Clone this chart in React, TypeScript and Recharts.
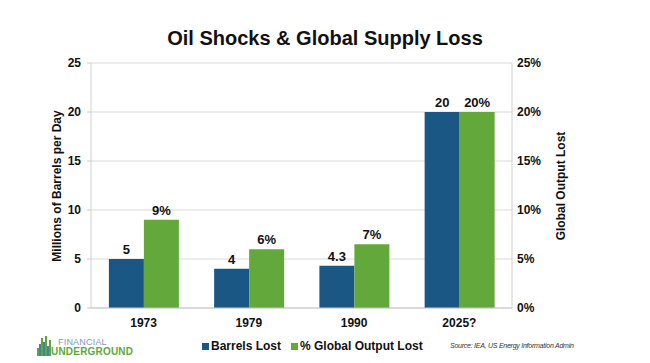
import React from "react";
import {
  BarChart,
  Bar,
  XAxis,
  YAxis,
  CartesianGrid,
  LabelList,
} from "recharts";

const years = ["1973", "1979", "1990", "2025?"];
const barrelsLost = [5, 4, 4.3, 20];
const outputLost = [9, 6, 6.5, 20];
const leftTicks = [0, 5, 10, 15, 20, 25];
const rightTicks = [0, 5, 10, 15, 20, 25];
const seriesNames = ["Barrels Lost", "% Global Output Lost"];

const BLUE = "#1b5785";
const GREEN = "#62a83a";
const font = "'Liberation Sans', Arial, sans-serif";

const data = years.map((year, i) => ({
  year,
  barrels: barrelsLost[i],
  output: outputLost[i],
}));

const tickStyle = { fontSize: 12, fontWeight: 700, fill: "#111", fontFamily: font };

export default function App() {
  return (
    <div style={{ position: "absolute", left: 0, top: 0, width: 650, height: 363, background: "#fff", fontFamily: font }}>
      <div style={{ position: "absolute", top: 27, left: 0, width: 650, textAlign: "center", fontSize: 20, fontWeight: 700, color: "#111" }}>
        Oil Shocks &amp; Global Supply Loss
      </div>
      <BarChart
        width={650}
        height={363}
        data={data}
        margin={{ top: 63, right: 98, bottom: 35, left: 51 }}
        barCategoryGap="17%"
        barGap={0}
      >
        <CartesianGrid vertical={false} stroke="#d9d9d9" yAxisId="left" />
        <XAxis
          dataKey="year"
          height={20}
          tick={tickStyle}
          tickLine={false}
          axisLine={{ stroke: "#c8c8c8" }}
          tickMargin={4}
        />
        <YAxis
          yAxisId="left"
          width={40}
          domain={[0, 25]}
          ticks={leftTicks}
          tick={tickStyle}
          tickSize={4}
          tickMargin={6}
          tickLine={{ stroke: "#c8c8c8" }}
          axisLine={{ stroke: "#d0d0d0" }}
        />
        <YAxis
          yAxisId="right"
          orientation="right"
          width={40}
          domain={[0, 25]}
          ticks={rightTicks}
          tick={tickStyle}
          tickSize={0}
          tickMargin={5}
          tickFormatter={(v: number) => `${v}%`}
          axisLine={{ stroke: "#d0d0d0" }}
        />
        <Bar yAxisId="left" dataKey="barrels" fill={BLUE} isAnimationActive={false}>
          <LabelList dataKey="barrels" position="top" offset={5} style={{ ...tickStyle, fontSize: 13 }} />
        </Bar>
        <Bar yAxisId="right" dataKey="output" fill={GREEN} isAnimationActive={false}>
          <LabelList
            dataKey="output"
            position="top"
            offset={5}
            formatter={(v: number) => `${Math.round(v)}%`}
            style={{ ...tickStyle, fontSize: 13 }}
          />
        </Bar>
      </BarChart>
      {/* axis titles */}
      <div style={{ position: "absolute", left: 57, top: 186, transform: "translate(-50%, -50%) rotate(-90deg)", whiteSpace: "nowrap", fontSize: 12, fontWeight: 700, color: "#111" }}>
        Millions of Barrels per Day
      </div>
      <div style={{ position: "absolute", left: 561, top: 186, transform: "translate(-50%, -50%) rotate(-90deg)", whiteSpace: "nowrap", fontSize: 12, fontWeight: 700, color: "#111" }}>
        Global Output Lost
      </div>
      {/* legend */}
      <div style={{ position: "absolute", top: 339, left: 202, display: "flex", alignItems: "center", fontSize: 12, fontWeight: 700, color: "#111" }}>
        {seriesNames.map((name, i) => (
          <span key={name} style={{ display: "flex", alignItems: "center", marginRight: 10 }}>
            <span style={{ display: "inline-block", width: 7, height: 7, background: i === 0 ? BLUE : GREEN, marginRight: 2 }} />
            {name}
          </span>
        ))}
      </div>
      {/* source */}
      <div style={{ position: "absolute", top: 342, left: 450, fontSize: 7, fontStyle: "italic", color: "#333", letterSpacing: -0.25 }}>
        Source: IEA, US Energy Information Admin
      </div>
      {/* logo */}
      <div style={{ position: "absolute", left: 37, top: 336, width: 14, height: 20 }}>
        {[8, 12, 18, 14, 20, 10, 16].map((h, i) => (
          <span key={i} style={{ position: "absolute", bottom: 0, left: i * 2, width: 2, height: h, background: i % 2 ? "#4a7fa8" : "#5ea83a" }} />
        ))}
      </div>
      <div style={{ position: "absolute", left: 58, top: 337, fontSize: 9, color: "#7d9cb8", letterSpacing: 0.2 }}>FINANCIAL</div>
      <div style={{ position: "absolute", left: 51, top: 346, fontSize: 10, fontWeight: 700, color: "#5ea83a", letterSpacing: 0.2 }}>UNDERGROUND</div>
    </div>
  );
}
